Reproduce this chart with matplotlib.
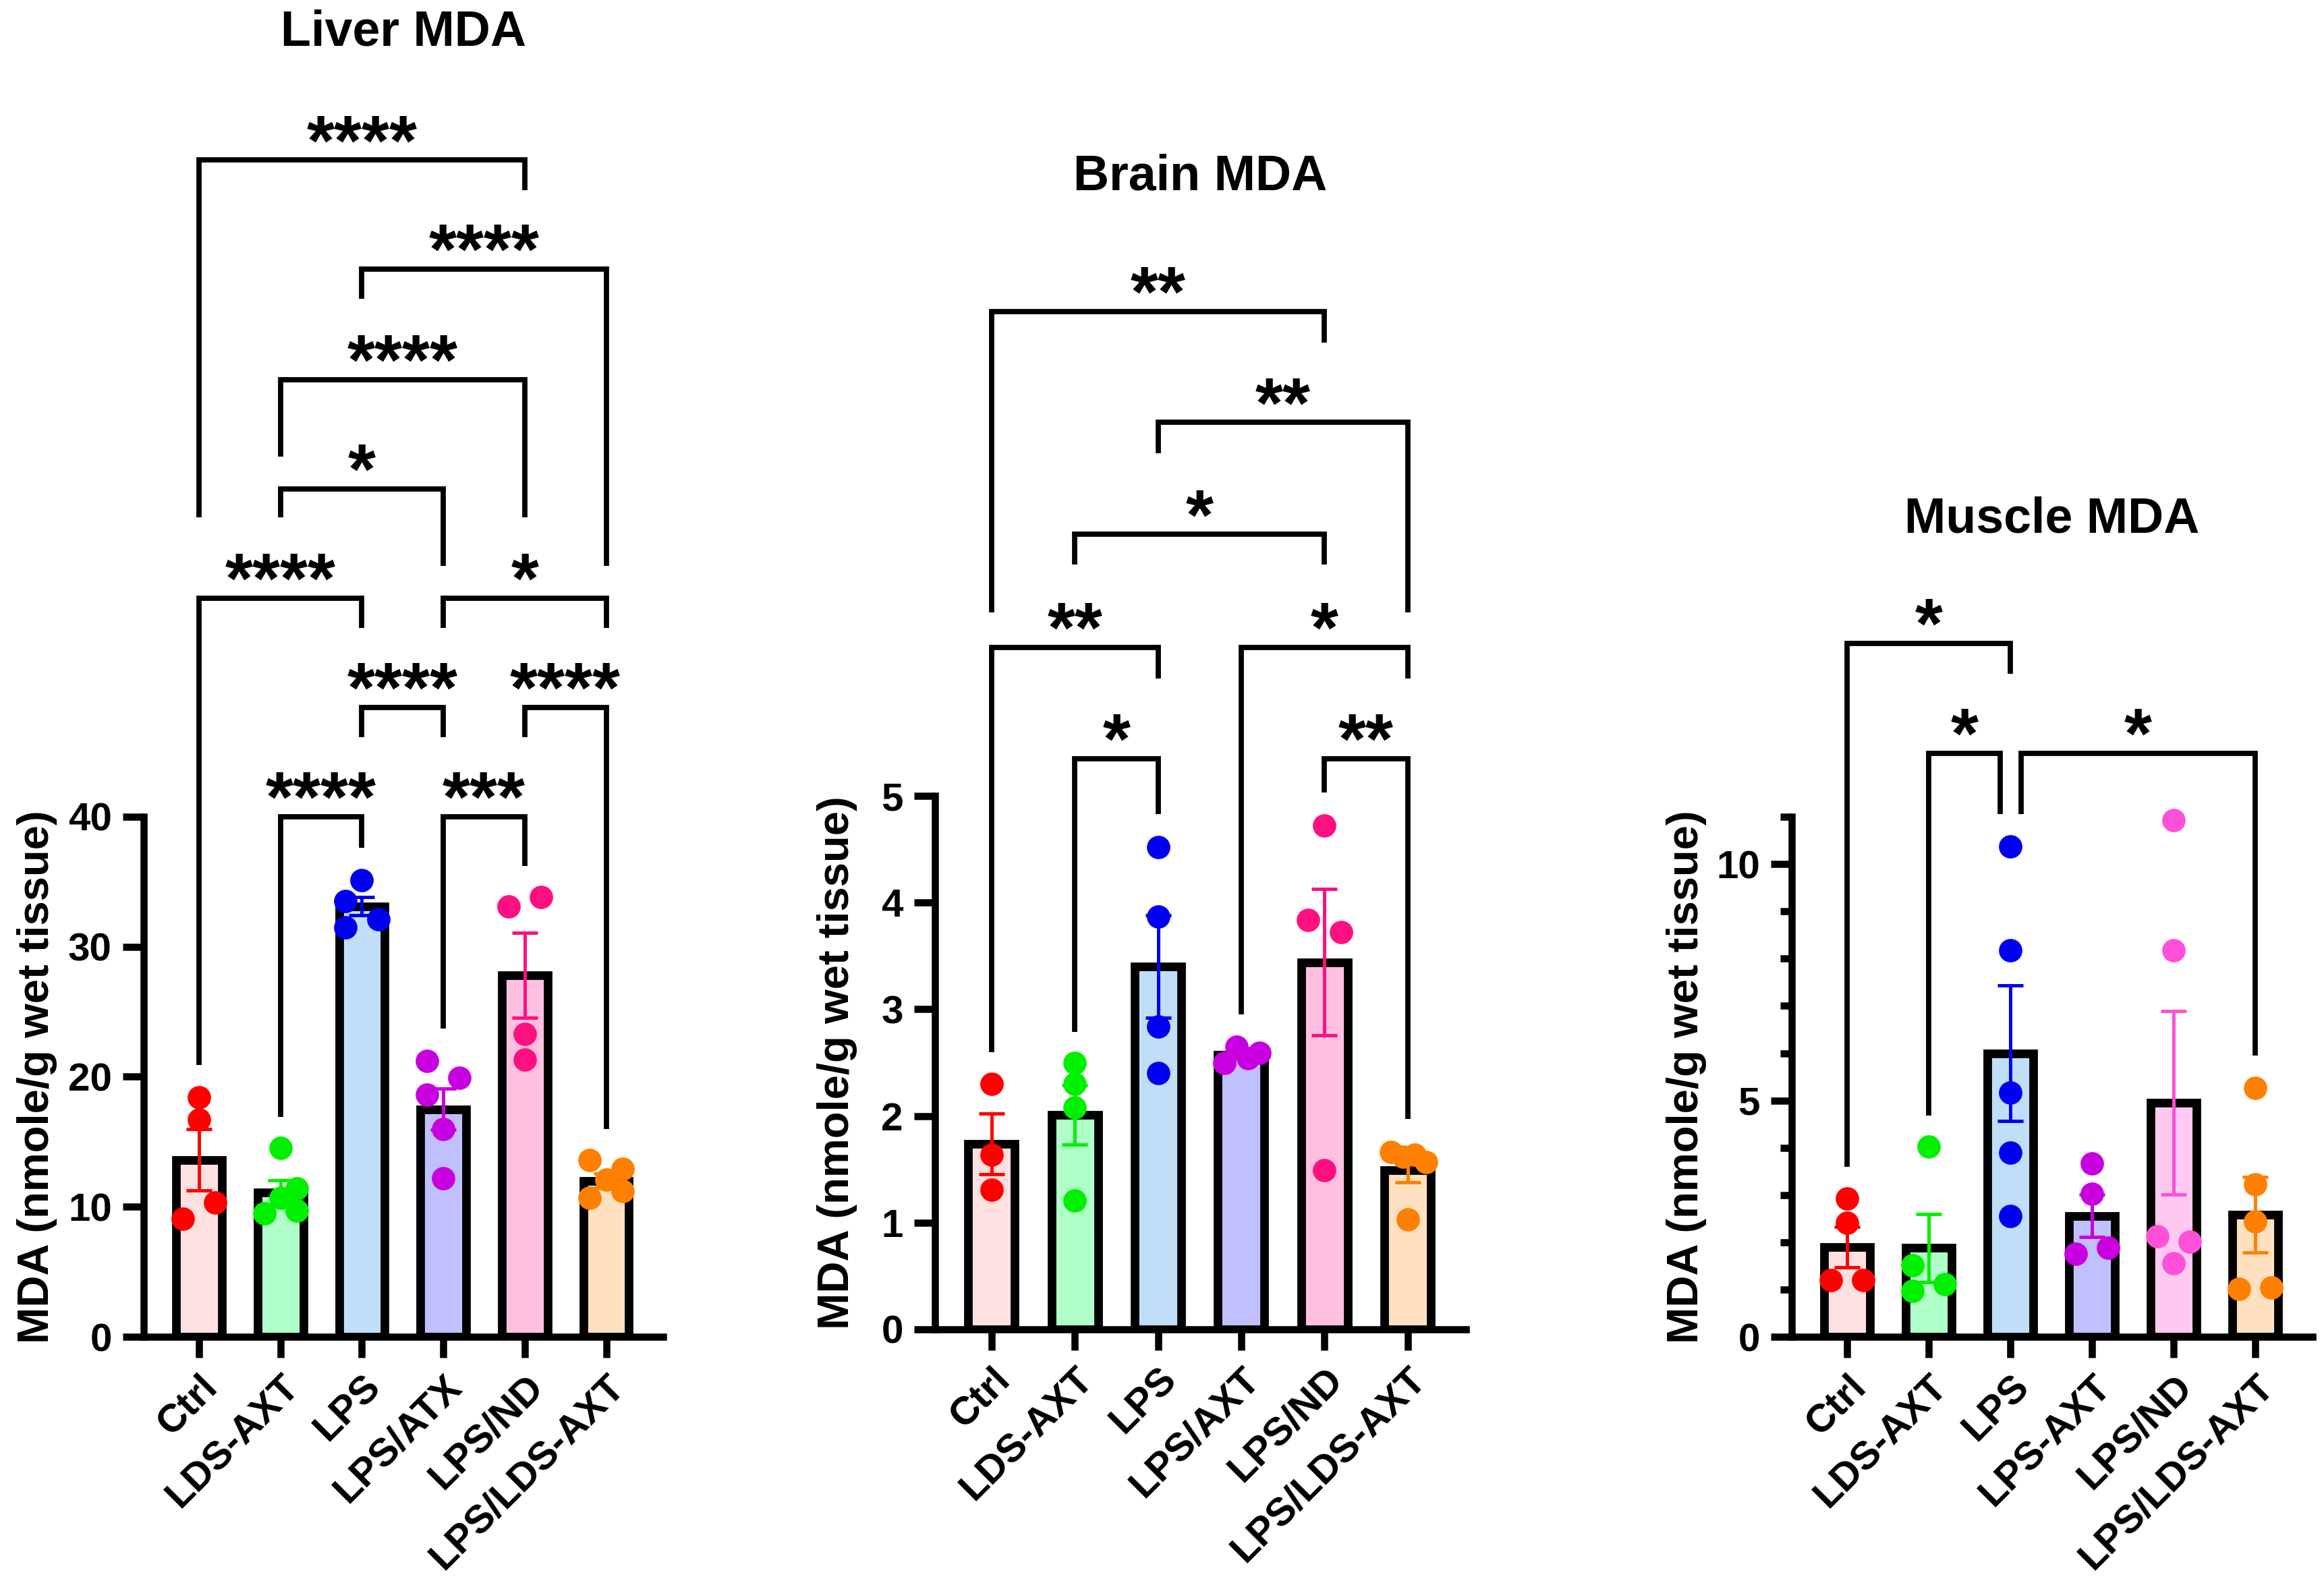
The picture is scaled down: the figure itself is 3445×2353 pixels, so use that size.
import numpy as np
import matplotlib
matplotlib.use("Agg")
import matplotlib.pyplot as plt
from matplotlib.transforms import blended_transform_factory

plt.rcParams['font.family'] = ['Liberation Sans', 'DejaVu Sans']
plt.rcParams['font.weight'] = 'bold'

# --- data
liver_groups = ["Ctrl", "LDS-AXT", "LPS", "LPS/ATX", "LPS/ND", "LPS/LDS-AXT"]
liver_means = [13.6, 11.1, 33.1, 17.5, 27.8, 12.0]
liver_sem = [2.35, 0.95, 0.7, 1.6, 3.25, 0.55]
liver_points = [
    [18.4, 16.7, 10.3, 9.1],
    [14.5, 11.4, 10.7, 9.7, 9.5],
    [35.1, 33.5, 32.1, 31.5],
    [21.2, 19.9, 18.6, 16.0, 12.2],
    [33.1, 33.8, 23.3, 21.3],
    [13.6, 12.9, 12.1, 11.2, 10.7],
]

brain_groups = ["Ctrl", "LDS-AXT", "LPS", "LPS/AXT", "LPS/ND", "LPS/LDS-AXT"]
brain_means = [1.74, 2.01, 3.40, 2.57, 3.44, 1.49]
brain_sem = [0.285, 0.28, 0.48, 0.03, 0.685, 0.11]
brain_points = [
    [2.30, 1.64, 1.31],
    [2.50, 2.30, 2.08, 1.21],
    [4.52, 3.87, 2.84, 2.40],
    [2.50, 2.65, 2.54, 2.59],
    [4.72, 3.84, 3.72, 1.49],
    [1.66, 1.62, 1.64, 1.57, 1.03],
]

muscle_groups = ["Ctrl", "LDS-AXT", "LPS", "LPS-AXT", "LPS/ND", "LPS/LDS-AXT"]
muscle_means = [1.90, 1.88, 6.0, 2.56, 4.95, 2.58]
muscle_sem = [0.43, 0.72, 1.43, 0.45, 1.94, 0.80]
muscle_points = [
    [2.92, 2.41, 1.20, 1.20],
    [4.02, 1.51, 1.12, 0.97],
    [10.38, 8.18, 5.17, 3.89, 2.55],
    [3.67, 3.02, 1.89, 1.76],
    [10.93, 8.18, 2.13, 2.01, 1.55],
    [5.27, 3.23, 2.44, 1.01, 1.04],
]

# --- styling / layout
point_colors = ["#FF0000", "#00F000", "#0000F0", "#C800E0", "#FF1080", "#FF8000"]
fill_colors = ["#FFE0E0", "#B0FFC8", "#C0DEF8", "#C0C0FF", "#FFC0E0", "#FFE0C0"]
muscle_point_colors = ["#FF0000", "#00F000", "#0000F0", "#C800E0", "#FF50D8", "#FF8000"]
muscle_fill_colors = ["#FFE0E0", "#B0FFC8", "#C0DEF8", "#C0C0FF", "#FFC8F0", "#FFE0C0"]

# horizontal spread of overlapping dots (fraction of bar spacing)
liver_jitter = [[0, 0, 0.2, -0.2], [0, 0.2, 0, 0.2, -0.2], [0, -0.2, 0.2, -0.2],
                [-0.2, 0.2, -0.2, 0, 0], [-0.2, 0.2, 0, 0], [-0.2, 0.2, 0, 0.2, -0.2]]
brain_jitter = [[0, 0, 0], [0, 0, 0, 0], [0, 0, 0, 0],
                [-0.2, -0.06, 0.08, 0.22], [0, -0.2, 0.2, 0], [-0.2, -0.05, 0.08, 0.22, 0]]
muscle_jitter = [[0, 0, -0.2, 0.2], [0, -0.2, 0.2, -0.2], [0, 0, 0, 0, 0],
                 [0, 0, 0.2, -0.2], [0, 0, -0.2, 0.2, 0], [0, 0, 0, -0.2, 0.2]]

# brackets: (i, j, y, left leg bottom, right leg bottom, label, dx_i, dx_j)
liver_brackets = [
    (0, 4, 90.5, 63.0, 88.2, "****", 0, 0),
    (2, 5, 82.1, 79.8, 59.3, "****", 0, 0),
    (1, 4, 73.6, 67.7, 63.0, "****", 0, 0),
    (1, 3, 65.2, 63.0, 59.3, "*", 0, 0),
    (0, 2, 56.8, 20.9, 54.5, "****", 0, 0),
    (3, 5, 56.8, 54.5, 54.5, "*", 0, 0),
    (2, 3, 48.4, 46.1, 46.1, "****", 0, 0),
    (4, 5, 48.4, 46.1, 16.0, "****", 0, 0),
    (1, 2, 40.0, 16.9, 37.6, "****", 0, 0),
    (3, 4, 40.0, 23.7, 36.2, "***", 0, 0),
]
brain_brackets = [
    (0, 4, 9.54, 6.72, 9.25, "**", 0, 0),
    (2, 5, 8.50, 8.21, 6.72, "**", 0, 0),
    (1, 4, 7.45, 7.17, 7.17, "*", 0, 0),
    (0, 2, 6.39, 2.60, 6.10, "**", 0, 0),
    (3, 5, 6.39, 2.95, 6.10, "*", 0, 0),
    (1, 2, 5.35, 2.79, 4.83, "*", 0, 0),
    (4, 5, 5.35, 5.03, 1.97, "**", 0, 0),
]
muscle_brackets = [
    (0, 2, 14.67, 3.60, 14.02, "*", 0, 0),
    (1, 2, 12.35, 4.68, 11.06, "*", 0, -0.13),
    (2, 5, 12.35, 11.06, 5.95, "*", 0.13, 0),
]

W, H = 3445, 2353
fig = plt.figure(figsize=(W / 200, H / 200), dpi=200)

panels = [
    dict(title="Liver MDA", groups=liver_groups, means=liver_means, sem=liver_sem,
         points=liver_points, jitter=liver_jitter, brackets=liver_brackets,
         pc=point_colors, fc=fill_colors, left=213, right=983, y0=1982, ppu=19.28,
         ytop=100.3, stop=40, yticks=[0, 10, 20, 30, 40], minor=None, lab_x=-0.205),
    dict(title="Brain MDA", groups=brain_groups, means=brain_means, sem=brain_sem,
         points=brain_points, jitter=brain_jitter, brackets=brain_brackets,
         pc=point_colors, fc=fill_colors, left=1386, right=2173, y0=1971, ppu=158.2,
         ytop=10.8, stop=5, yticks=[0, 1, 2, 3, 4, 5], minor=None, lab_x=-0.184),
    dict(title="Muscle MDA", groups=muscle_groups, means=muscle_means, sem=muscle_sem,
         points=muscle_points, jitter=muscle_jitter, brackets=muscle_brackets,
         pc=muscle_point_colors, fc=muscle_fill_colors, left=2656, right=3428, y0=1982,
         ppu=70.08, ytop=17.3, stop=11, yticks=[0, 5, 10],
         minor=[1, 2, 3, 4, 6, 7, 8, 9, 11], lab_x=-0.202),
]

for p in panels:
    ax = fig.add_axes([p["left"] / W, 1 - p["y0"] / H,
                       (p["right"] - p["left"]) / W, p["ytop"] * p["ppu"] / H])
    x = np.arange(len(p["groups"]))
    ax.bar(x, p["means"], width=0.56, color=p["fc"], edgecolor="black",
           linewidth=4.6, zorder=1)
    for i, vals in enumerate(p["points"]):
        xs = x[i] + np.array(p["jitter"][i])
        ax.plot(xs, vals, "o", color=p["pc"][i], markersize=12.5, markeredgewidth=0,
                zorder=2, clip_on=False)
        ax.errorbar(x[i], p["means"][i], yerr=p["sem"][i], fmt="none",
                    ecolor=p["pc"][i], elinewidth=1.8, capsize=7, capthick=1.8, zorder=3)

    for (i, j, y, yl, yr, lab, di, dj) in p["brackets"]:
        xi, xj = x[i] + di, x[j] + dj
        ax.plot([xi, xi, xj, xj], [yl, y, y, yr], color="black", lw=2.8,
                solid_joinstyle="miter", solid_capstyle="butt", clip_on=False, zorder=4)
        ax.annotate(lab, xy=((xi + xj) / 2, y), xytext=(0, -2.5), textcoords="offset points",
                    ha="center", va="baseline", fontsize=38, fontweight="bold",
                    annotation_clip=False)

    ax.set_xlim(-0.68, 5.7)
    ax.set_ylim(0, p["ytop"])
    for s in ["top", "right"]:
        ax.spines[s].set_visible(False)
    ax.spines["left"].set_linewidth(3.8)
    ax.spines["bottom"].set_linewidth(3.8)
    ax.spines["left"].set_bounds(0, p["stop"])
    ax.set_yticks(p["yticks"])
    if p["minor"]:
        ax.set_yticks(p["minor"], minor=True)
        ax.tick_params(axis="y", which="minor", length=6, width=3.8)
    ax.set_xticks(x)
    ax.set_xticklabels(p["groups"], rotation=45, ha="right", rotation_mode="anchor")
    ax.tick_params(axis="both", which="major", length=11, width=3.8, labelsize=21, pad=6)
    for lbl in ax.get_xticklabels() + ax.get_yticklabels():
        lbl.set_fontweight("bold")

    tr = blended_transform_factory(ax.transAxes, ax.transData)
    ax.text(0.5, p["ytop"], p["title"], transform=tr, ha="center", va="center",
            fontsize=26.5, fontweight="bold")
    ax.text(p["lab_x"], p["stop"] / 2, "MDA (nmole/g wet tissue)", transform=tr,
            rotation=90, ha="center", va="center", fontsize=23.5, fontweight="bold")

fig.savefig("out.png", dpi=200)
